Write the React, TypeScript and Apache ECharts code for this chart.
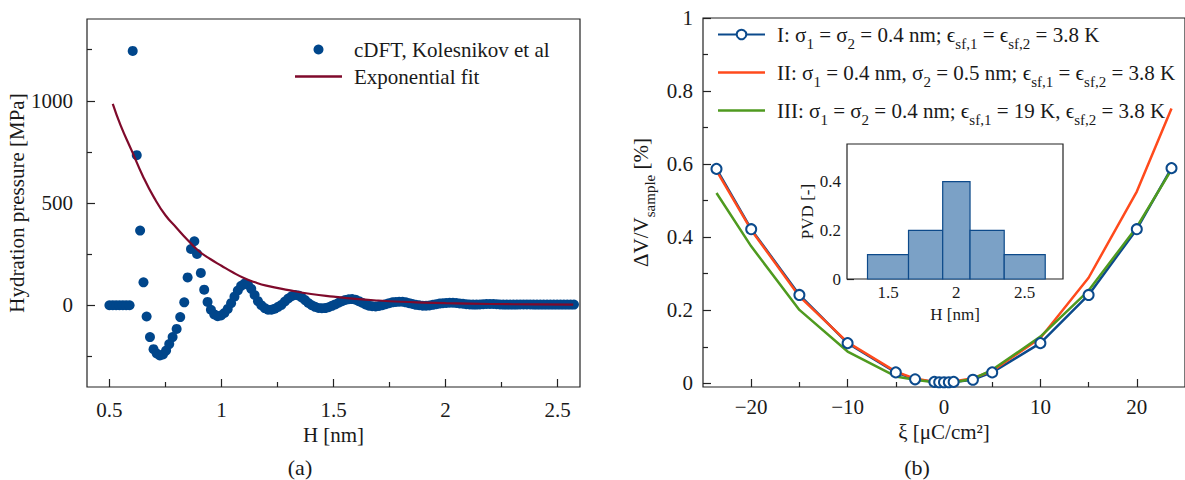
import React, { useEffect, useRef } from 'react';
import * as echarts from 'echarts';

const FONT = '"Liberation Serif", "DejaVu Serif", serif';
const INK = '#1a1a1a';

// ---------- (a) hydration pressure ----------
const cdftH = [
  0.5, 0.515, 0.53, 0.545, 0.56, 0.575, 0.59, 0.604, 0.622, 0.637, 0.652, 0.666, 0.681, 0.697,
  0.711, 0.725, 0.739, 0.753, 0.767, 0.782, 0.8, 0.816, 0.834, 0.849, 0.864, 0.879, 0.891, 0.908,
  0.923, 0.938, 0.953, 0.968, 0.983, 0.998, 1.013, 1.028, 1.043, 1.058, 1.073, 1.088, 1.103, 1.118,
  1.133, 1.148, 1.163, 1.178, 1.193, 1.208, 1.223, 1.238, 1.253, 1.268, 1.283, 1.298, 1.313, 1.328,
  1.343, 1.358, 1.373, 1.388, 1.403, 1.418, 1.433, 1.448, 1.463, 1.478, 1.493, 1.508, 1.523, 1.538,
  1.553, 1.568, 1.583, 1.598, 1.613, 1.628, 1.643, 1.658, 1.673, 1.688, 1.703, 1.718, 1.733, 1.748,
  1.763, 1.778, 1.793, 1.808, 1.823, 1.838, 1.853, 1.868, 1.883, 1.898, 1.913, 1.928, 1.943, 1.958,
  1.973, 1.988, 2.003, 2.018, 2.033, 2.048, 2.063, 2.078, 2.093, 2.108, 2.123, 2.138, 2.153, 2.168,
  2.183, 2.198, 2.213, 2.228, 2.243, 2.258, 2.273, 2.288, 2.303, 2.318, 2.333, 2.348, 2.363, 2.378,
  2.393, 2.408, 2.423, 2.438, 2.453, 2.468, 2.483, 2.498, 2.513, 2.528, 2.543, 2.558, 2.573,
];
const cdftP = [
  0, 0, 0, 0, 0, 0, 0, 1244, 734, 365, 112, -55, -156, -215,
  -236, -246, -241, -222, -190, -156, -116, -58, 14, 136, 275, 313, 251, 158,
  76, 16, -22, -45, -54, -50, -38, -18, 10, 42, 72, 95, 106, 101,
  80, 50, 20, 0, -14, -22, -22, -17, -8, 2, 18, 33, 44, 50,
  48, 38, 25, 11, 0, -8, -13, -15, -14, -10, -3, 4, 12, 20,
  26, 29, 30, 27, 20, 12, 4, -2, -5, -6, -4, 0, 5, 10,
  14, 16, 17, 17, 14, 10, 6, 2, 0, -2, -2, -1, 2, 5,
  8, 10, 11, 12, 12, 11, 9, 7, 5, 4, 3, 3, 4, 5,
  6, 6, 6, 5, 4, 3, 3, 3, 3, 3, 4, 4, 4, 4,
  3, 3, 3, 3, 3, 3, 3, 3, 3, 3, 3, 3, 3,
];
const fitH = [0.515, 0.55, 0.6, 0.65, 0.7, 0.75, 0.8, 0.85, 0.9, 0.95, 1.0, 1.05, 1.1, 1.15, 1.2, 1.3, 1.4, 1.5, 1.6, 1.7, 1.8, 1.9, 2.0, 2.2, 2.4, 2.57];
const fitP = [985, 880, 755, 630, 525, 440, 378, 318, 264, 226, 193, 161, 133, 112, 96, 74, 55, 42, 31, 23, 17, 13, 10, 6, 4, 3];

const xTicksA = [0.5, 1, 1.5, 2, 2.5];
const xMinorA = [0.75, 1.25, 1.75, 2.25];
const yTicksA = [0, 500, 1000];
const yMinorA = [-250, 250, 750, 1250];

// ---------- (b) volume change ----------
const xiValues = [-23.6, -20, -15, -10, -5, -3, -1, -0.5, 0, 0.5, 1, 3, 5, 10, 15, 20, 23.6];
const seriesI = [0.587, 0.422, 0.242, 0.11, 0.03, 0.011, 0.004, 0.003, 0.003, 0.003, 0.004, 0.01, 0.03, 0.11, 0.242, 0.422, 0.589];
const seriesII = [0.582, 0.42, 0.238, 0.112, 0.032, 0.013, 0.004, 0.003, 0.002, 0.003, 0.005, 0.014, 0.034, 0.124, 0.289, 0.525, 0.752];
const seriesIII = [0.521, 0.375, 0.201, 0.087, 0.019, 0.01, 0.003, 0.002, 0.002, 0.002, 0.003, 0.012, 0.037, 0.128, 0.254, 0.428, 0.585];

const xTicksB = [-20, -10, 0, 10, 20];
const xMinorB = [-15, -5, 5, 15];
const yTicksB = [0, 0.2, 0.4, 0.6, 0.8, 1];
const yMinorB = [0.1, 0.3, 0.5, 0.7, 0.9];

// ---------- inset: pore volume distribution ----------
const binEdges = [1.35, 1.65, 1.9, 2.1, 2.35, 2.65];
const pvdValues = [0.1, 0.2, 0.4, 0.2, 0.1];
const xTicksIn = [1.5, 2, 2.5];
const xMinorIn = [1.25, 1.75, 2.25, 2.75];
const yTicksIn = [0, 0.2, 0.4];
const yMinorIn = [0.1, 0.3, 0.5];

const legendB: Record<string, string> = {
  I: '{n|I: σ}{s|1}{n| = σ}{s|2}{n| = 0.4 nm; ϵ}{s|sf,1}{n| = ϵ}{s|sf,2}{n| = 3.8 K}',
  II: '{n|II: σ}{s|1}{n| = 0.4 nm, σ}{s|2}{n| = 0.5 nm; ϵ}{s|sf,1}{n| = ϵ}{s|sf,2}{n| = 3.8 K}',
  III: '{n|III: σ}{s|1}{n| = σ}{s|2}{n| = 0.4 nm; ϵ}{s|sf,1}{n| = 19 K, ϵ}{s|sf,2}{n| = 3.8 K}',
};

const BLUE = '#0b4a8c';
const ORANGE = '#ff4a1c';
const GREEN = '#4f9a1f';
const DOT = '#00468b';
const MAROON = '#7f0a2b';

const LINE_ICON = 'path://M0,0 L47,0 L47,2.4 L0,2.4 Z';

const tickLine = { color: '#222', width: 1.2 };

function axisPair(
  dim: 'x' | 'y',
  gridIndex: number,
  min: number,
  max: number,
  major: number[],
  minor: number[],
  o: any
) {
  const base: any = {
    type: 'value',
    gridIndex,
    min,
    max,
    position: dim === 'x' ? 'bottom' : 'left',
    splitLine: { show: false },
    axisLine: { show: false, onZero: false },
  };
  return [
    {
      ...base,
      name: o.name,
      nameLocation: 'middle',
      nameGap: o.nameGap,
      nameRotate: dim === 'y' ? 90 : 0,
      nameTextStyle: {
        fontFamily: FONT,
        fontSize: o.fontSize,
        color: INK,
        rich: o.rich,
      },
      axisTick: { show: true, inside: true, length: o.majorLen, customValues: major, lineStyle: tickLine },
      axisLabel: {
        show: true,
        customValues: major,
        margin: o.margin,
        fontFamily: FONT,
        fontSize: o.fontSize,
        color: INK,
        formatter: o.formatter || ((v: number) => String(v)),
      },
    },
    {
      ...base,
      axisTick: { show: true, inside: true, length: o.minorLen, customValues: minor, lineStyle: tickLine },
      axisLabel: { show: false, customValues: minor },
    },
  ];
}

export default function App() {
  const ref = useRef<HTMLDivElement>(null);
  useEffect(() => {
    if (!ref.current) return;
    const chart = echarts.init(ref.current, undefined, { renderer: 'svg' });

    const subRich = {
      n: { fontFamily: FONT, fontSize: 21, color: INK },
      s: { fontFamily: FONT, fontSize: 15, color: INK, padding: [18, 0, 0, 0] },
    };

    const xAxes = [
      ...axisPair('x', 0, 0.4, 2.6, xTicksA, xMinorA, {
        name: 'H [nm]', nameGap: 36, fontSize: 21, margin: 12, majorLen: 8, minorLen: 5,
      }),
      ...axisPair('x', 1, -25, 25, xTicksB, xMinorB, {
        name: 'ξ [μC/cm²]', nameGap: 29, fontSize: 21, margin: 9, majorLen: 8, minorLen: 5,
        formatter: (v: number) => String(v).replace('-', '−'),
      }),
      ...axisPair('x', 2, 1.2, 2.78, xTicksIn, xMinorIn, {
        name: 'H [nm]', nameGap: 27, fontSize: 17, margin: 5, majorLen: 8, minorLen: 4,
      }),
    ];
    const yAxes = [
      ...axisPair('y', 0, -400, 1400, yTicksA, yMinorA, {
        name: 'Hydration pressure [MPa]', nameGap: 54, fontSize: 21, margin: 14, majorLen: 8, minorLen: 5,
      }),
      ...axisPair('y', 1, -0.01, 1, yTicksB, yMinorB, {
        name: '{n|ΔV/V}{s|sample}{n| [%]}', nameGap: 46, fontSize: 21, margin: 10, majorLen: 8, minorLen: 5,
        rich: subRich,
      }),
      ...axisPair('y', 2, 0, 0.555, yTicksIn, yMinorIn, {
        name: 'PVD [-]', nameGap: 30, fontSize: 17, margin: 6, majorLen: 7, minorLen: 5,
      }),
    ];

    const option: any = {
      animation: false,
      backgroundColor: '#ffffff',
      textStyle: { fontFamily: FONT },
      grid: [
        { left: 87, top: 19, width: 493, height: 368, show: true, borderColor: '#222', borderWidth: 1.2, backgroundColor: 'transparent' },
        { left: 703, top: 18, width: 492, height: 369, show: true, borderColor: '#222', borderWidth: 1.2, backgroundColor: 'transparent' },
        { left: 847, top: 144, width: 216, height: 135, show: true, borderColor: '#222', borderWidth: 1.2, backgroundColor: '#ffffff', z: 5 },
      ],
      xAxis: xAxes,
      yAxis: yAxes,
      legend: [
        {
          orient: 'vertical',
          left: 290,
          top: 34,
          itemWidth: 47,
          itemHeight: 10,
          itemGap: 6,
          data: [
            { name: 'cDFT, Kolesnikov et al' },
            { name: 'Exponential fit', icon: LINE_ICON },
          ],
          textStyle: { fontFamily: FONT, fontSize: 21, color: INK, padding: [0, 0, 0, 7] },
        },
        {
          orient: 'vertical',
          left: 712,
          top: 19,
          itemWidth: 47,
          itemHeight: 12,
          itemGap: 11,
          data: [
            { name: 'I' },
            { name: 'II', icon: LINE_ICON },
            { name: 'III', icon: LINE_ICON },
          ],
          formatter: (name: string) => legendB[name],
          textStyle: { fontFamily: FONT, fontSize: 21, color: INK, padding: [0, 0, 0, 7], rich: subRich },
        },
      ],
      graphic: [
        { type: 'text', x: 300, y: 467, style: { text: '(a)', font: '22px ' + FONT, fill: INK, align: 'center', verticalAlign: 'middle' } },
        { type: 'text', x: 917, y: 467, style: { text: '(b)', font: '22px ' + FONT, fill: INK, align: 'center', verticalAlign: 'middle' } },
      ],
      series: [
        {
          name: 'cDFT, Kolesnikov et al',
          type: 'scatter',
          xAxisIndex: 0,
          yAxisIndex: 0,
          symbol: 'circle',
          symbolSize: 10,
          itemStyle: { color: DOT, opacity: 1 },
          data: cdftH.map((h, i) => [h, cdftP[i]]),
          z: 2,
        },
        {
          name: 'Exponential fit',
          type: 'line',
          xAxisIndex: 0,
          yAxisIndex: 0,
          smooth: true,
          symbol: 'none',
          lineStyle: { color: MAROON, width: 2.2 },
          itemStyle: { color: MAROON },
          data: fitH.map((h, i) => [h, fitP[i]]),
          z: 3,
        },
        {
          name: 'I',
          type: 'line',
          xAxisIndex: 2,
          yAxisIndex: 2,
          symbol: 'emptyCircle',
          symbolSize: 10,
          itemStyle: { color: BLUE, borderWidth: 2.5 },
          lineStyle: { color: BLUE, width: 2.5 },
          data: xiValues.map((x, i) => [x, seriesI[i]]),
        },
        {
          name: 'II',
          type: 'line',
          xAxisIndex: 2,
          yAxisIndex: 2,
          symbol: 'none',
          itemStyle: { color: ORANGE },
          lineStyle: { color: ORANGE, width: 2.5 },
          data: xiValues.map((x, i) => [x, seriesII[i]]),
        },
        {
          name: 'III',
          type: 'line',
          xAxisIndex: 2,
          yAxisIndex: 2,
          symbol: 'none',
          itemStyle: { color: GREEN },
          lineStyle: { color: GREEN, width: 2.5 },
          data: xiValues.map((x, i) => [x, seriesIII[i]]),
        },
        {
          name: 'PVD',
          type: 'custom',
          xAxisIndex: 4,
          yAxisIndex: 4,
          z: 6,
          encode: { x: [0, 1], y: 2 },
          data: pvdValues.map((v, i) => [binEdges[i], binEdges[i + 1], v]),
          renderItem: (params: any, api: any) => {
            const p0 = api.coord([api.value(0), api.value(2)]);
            const p1 = api.coord([api.value(1), 0]);
            return {
              type: 'rect',
              shape: { x: p0[0], y: p0[1], width: p1[0] - p0[0], height: p1[1] - p0[1] },
              style: { fill: '#7ba1c6', stroke: '#0d4a8a', lineWidth: 1.2 },
            };
          },
        },
      ],
    };
    chart.setOption(option);
    return () => chart.dispose();
  }, []);

  return (
    <div
      ref={ref}
      style={{ position: 'absolute', left: 0, top: 0, width: 1185, height: 480, background: '#fff' }}
    />
  );
}
